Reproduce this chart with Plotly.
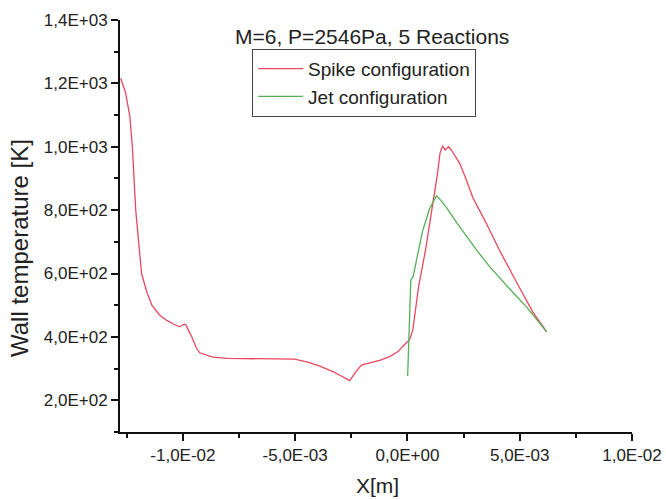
import plotly.graph_objects as go

# Spike configuration (red)
spike_x = [-0.01277, -0.01255, -0.01236, -0.01225, -0.01210, -0.01195, -0.01184, -0.01160,
           -0.01138, -0.01105, -0.01072, -0.01040, -0.01014, -0.00995, -0.00987, -0.00960,
           -0.00940, -0.00925, -0.00867, -0.00800, -0.00700, -0.00600, -0.00502, -0.00440,
           -0.00390, -0.00330, -0.00280, -0.00257, -0.00230, -0.00205, -0.00168, -0.00120,
           -0.00079, -0.00040, -0.00021, 0.00000, 0.00010, 0.00024, 0.00040, 0.00050,
           0.00081, 0.00110, 0.00135, 0.00145, 0.00157, 0.00168, 0.00184, 0.00200,
           0.00233, 0.00260, 0.00291, 0.00350, 0.00411, 0.00487, 0.00558, 0.00620]
spike_t = [1216, 1170, 1095, 1000, 800, 680, 600, 540,
           500, 470, 452, 440, 432, 440, 438, 400,
           365, 350, 336, 332, 331, 331, 330, 320,
           308, 290, 272, 262, 290, 311, 318, 327,
           338, 355, 370, 385, 392, 422, 507, 560,
           676, 800, 920, 980, 1003, 990, 1000, 985,
           947, 900, 840, 760, 672, 571, 479, 416]

# Jet configuration (green)
jet_x = [0.00001, 0.00006, 0.00010, 0.00015, 0.00025, 0.00068, 0.00099, 0.00129,
         0.00150, 0.00174, 0.00220, 0.00263, 0.00310, 0.00366, 0.00411, 0.00470,
         0.00531, 0.00580, 0.00620]
jet_t = [277, 400, 517, 580, 590, 736, 805, 845,
         830, 808, 760, 716, 672, 622, 585, 540,
         494, 452, 416]

x_tickvals = [-0.01, -0.005, 0.0, 0.005, 0.01]
x_ticktext = ["-1,0E-02", "-5,0E-03", "0,0E+00", "5,0E-03", "1,0E-02"]
y_tickvals = [200, 400, 600, 800, 1000, 1200, 1400]
y_ticktext = ["2,0E+02", "4,0E+02", "6,0E+02", "8,0E+02", "1,0E+03", "1,2E+03", "1,4E+03"]

FONT = "Liberation Sans, Arial, sans-serif"
TXT = "#222222"

fig = go.Figure()
fig.add_trace(go.Scatter(x=spike_x, y=spike_t, mode="lines", name="Spike configuration",
                         line=dict(color="#e8485e", width=1.3)))
fig.add_trace(go.Scatter(x=jet_x, y=jet_t, mode="lines", name="Jet configuration",
                         line=dict(color="#55b055", width=1.3)))

axis_common = dict(showgrid=False, zeroline=False, showline=True, linecolor="#111111",
                   linewidth=2, ticks="outside", ticklen=7, tickwidth=1.5, tickcolor="#111111",
                   automargin=False,
                   tickfont=dict(family=FONT, size=17, color=TXT))

fig.update_xaxes(range=[-0.0128, 0.01], tickvals=x_tickvals, ticktext=x_ticktext,
                 minor=dict(ticks="outside", ticklen=4, tickwidth=1.5, tickcolor="#111111",
                            tick0=0.0025, dtick=0.005),
                 **axis_common)
fig.update_yaxes(range=[100, 1400], tickvals=y_tickvals, ticktext=y_ticktext,
                 minor=dict(ticks="outside", ticklen=4, tickwidth=1.5, tickcolor="#111111",
                            tick0=100, dtick=200),
                 **axis_common)

fig.update_layout(
    template="none",
    width=666, height=500,
    margin=dict(l=120, r=34, t=20, b=68, autoexpand=False),
    paper_bgcolor="white", plot_bgcolor="white",
    font=dict(family=FONT, color=TXT),
    showlegend=True,
    legend=dict(x=0.258, y=0.930, xanchor="left", yanchor="top",
                bordercolor="#444444", borderwidth=1, bgcolor="white",
                font=dict(family=FONT, size=19, color=TXT), itemwidth=45,
                tracegroupgap=0),
    annotations=[
        dict(text="M=6, P=2546Pa, 5 Reactions", xref="paper", yref="paper",
             x=0.493, y=0.96, xanchor="center", yanchor="middle", showarrow=False,
             font=dict(family=FONT, size=21, color=TXT)),
        dict(text="Wall temperature [K]", xref="paper", yref="paper",
             x=-0.195, y=0.447, xanchor="center", yanchor="middle", showarrow=False,
             textangle=-90, font=dict(family=FONT, size=24, color=TXT)),
        dict(text="X[m]", xref="paper", yref="paper",
             x=0.502, y=-0.129, xanchor="center", yanchor="middle", showarrow=False,
             font=dict(family=FONT, size=21, color=TXT)),
    ],
)

fig.write_html("out.html")
